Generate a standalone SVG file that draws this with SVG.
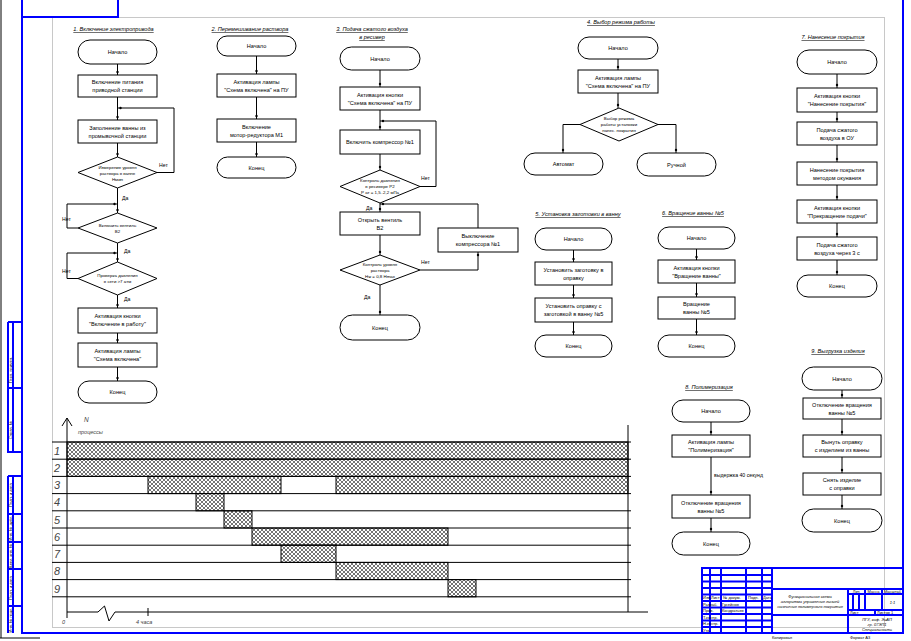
<svg xmlns="http://www.w3.org/2000/svg" width="911" height="641" viewBox="0 0 911 641">
<style>
.b{fill:#fff;stroke:#000;stroke-width:1}
.c{fill:none;stroke:#000;stroke-width:1}
.t{font-family:"Liberation Sans",Arial,sans-serif;font-size:5.6px;text-anchor:middle;fill:#000}
.d{font-family:"Liberation Sans",Arial,sans-serif;font-size:4.4px;text-anchor:middle;fill:#000}
.h{font-family:"Liberation Sans",Arial,sans-serif;font-size:5.6px;text-anchor:middle;fill:#000;font-style:italic;text-decoration:underline}
.l{font-family:"Liberation Sans",Arial,sans-serif;font-size:5.2px;fill:#000}
.g{font-family:"Liberation Sans",Arial,sans-serif;font-style:italic;fill:#444}
.s{font-family:"Liberation Sans",Arial,sans-serif;font-size:4px;fill:#000}
.fb{fill:none;stroke:#0000ff;stroke-width:2}
.fg{fill:none;stroke:#c8c8c8;stroke-width:1}
.hb{fill:url(#hatch);stroke:#000;stroke-width:1}
</style>
<defs>
<pattern id="hatch" width="4" height="4" patternUnits="userSpaceOnUse">
<rect width="4" height="4" fill="#fff"/>
<path d="M0,0 L4,4 M4,0 L0,4" stroke="#000" stroke-width="0.55"/>
</pattern>
<marker id="dot" markerUnits="userSpaceOnUse" viewBox="-6 -2 8 4" refX="0" refY="0" markerWidth="8" markerHeight="4" orient="auto" overflow="visible">
<circle cx="-3" cy="0" r="1.2" fill="#000"/>
</marker>
</defs>
<rect width="911" height="641" fill="#fff"/>

<!-- frame -->
<g id="frame">
<rect class="fg" x="52.5" y="17.5" width="832" height="610"/>
<path class="fb" d="M22,0 V633 H903 V0"/>
<path class="fb" d="M22,17 H118 V0"/>
<line x1="1" y1="0" x2="1" y2="638" stroke="#000" stroke-width="1"/>
<line x1="0" y1="638" x2="40" y2="638" stroke="#000" stroke-width="1"/>
<path class="fb" d="M8,322 H22 M8,322 V452 H22 M13,322 V452 M8,388 H22"/>
<path class="fb" d="M8,476 H22 M8,476 V633 M13,476 V633 M8,514 H22 M8,542 H22 M8,569 H22 M8,606 H22"/>
<text class="s" transform="translate(11.5,370) rotate(-90)" text-anchor="middle">Перв. примен.</text>
<text class="s" transform="translate(11.5,430) rotate(-90)" text-anchor="middle">Справ. №</text>
<text class="s" transform="translate(11.5,495) rotate(-90)" text-anchor="middle">Подп. и дата</text>
<text class="s" transform="translate(11.5,528) rotate(-90)" text-anchor="middle">Инв. № дубл.</text>
<text class="s" transform="translate(11.5,556) rotate(-90)" text-anchor="middle">Взам. инв. №</text>
<text class="s" transform="translate(11.5,588) rotate(-90)" text-anchor="middle">Подп. и дата</text>
<text class="s" transform="translate(11.5,620) rotate(-90)" text-anchor="middle">Инв. № подл.</text>
</g>

<!-- connectors -->
<g id="connectors" class="c">
<path d="M117.5,64 V75" marker-end="url(#dot)"/>
<path d="M117.5,97 V120" marker-end="url(#dot)"/>
<path d="M117.5,143 V157" marker-end="url(#dot)"/>
<path d="M117.5,188 V213" marker-end="url(#dot)"/>
<path d="M117.5,243 V262" marker-end="url(#dot)"/>
<path d="M117.5,295 V308" marker-end="url(#dot)"/>
<path d="M117.5,333 V343" marker-end="url(#dot)"/>
<path d="M117.5,367 V381" marker-end="url(#dot)"/>
<path d="M157,172.5 H174 V108 H117.5" marker-end="url(#dot)"/>
<path d="M78,228 H67 V204 H117.5" marker-end="url(#dot)"/>
<path d="M78,278.5 H67 V253 H117.5" marker-end="url(#dot)"/>
<path d="M256.5,56 V74" marker-end="url(#dot)"/>
<path d="M256.5,97 V119" marker-end="url(#dot)"/>
<path d="M256.5,142 V157" marker-end="url(#dot)"/>
<path d="M380,70 V87" marker-end="url(#dot)"/>
<path d="M380,110 V130" marker-end="url(#dot)"/>
<path d="M380,154 V170" marker-end="url(#dot)"/>
<path d="M380,203 V212" marker-end="url(#dot)"/>
<path d="M380,235 V255" marker-end="url(#dot)"/>
<path d="M380,285 V315" marker-end="url(#dot)"/>
<path d="M420,186.5 H436 V121 H380" marker-end="url(#dot)"/>
<path d="M420,270 H478 V252" marker-end="url(#dot)"/>
<path d="M478,228 V204 H380" marker-end="url(#dot)"/>
<path d="M618,59 V70" marker-end="url(#dot)"/>
<path d="M618,93 V108" marker-end="url(#dot)"/>
<path d="M580,124.5 H563 V153" marker-end="url(#dot)"/>
<path d="M658,124.5 H676 V153" marker-end="url(#dot)"/>
<path d="M573.5,250 V262" marker-end="url(#dot)"/>
<path d="M573.5,285 V298" marker-end="url(#dot)"/>
<path d="M573.5,322 V335" marker-end="url(#dot)"/>
<path d="M696.5,249 V260" marker-end="url(#dot)"/>
<path d="M696.5,283 V297" marker-end="url(#dot)"/>
<path d="M696.5,319 V335" marker-end="url(#dot)"/>
<path d="M837,74 V88" marker-end="url(#dot)"/>
<path d="M837,112 V122" marker-end="url(#dot)"/>
<path d="M837,145 V162" marker-end="url(#dot)"/>
<path d="M837,185 V200" marker-end="url(#dot)"/>
<path d="M837,223 V237" marker-end="url(#dot)"/>
<path d="M837,260 V275" marker-end="url(#dot)"/>
<path d="M711,422 V435" marker-end="url(#dot)"/>
<path d="M711,457 V495" marker-end="url(#dot)"/>
<path d="M711,518 V532" marker-end="url(#dot)"/>
<path d="M842,390 V398" marker-end="url(#dot)"/>
<path d="M842,419 V435" marker-end="url(#dot)"/>
<path d="M842,457 V473" marker-end="url(#dot)"/>
<path d="M842,495 V509" marker-end="url(#dot)"/>
</g>

<g id="connector-labels">
<text class="l" x="159" y="167">Нет</text>
<text class="l" x="122" y="200">Да</text>
<text class="l" x="62" y="221">Нет</text>
<text class="l" x="124" y="253">Да</text>
<text class="l" x="62" y="273">Нет</text>
<text class="l" x="124" y="301">Да</text>
<text class="l" x="421" y="180">Нет</text>
<text class="l" x="366" y="210">Да</text>
<text class="l" x="421" y="264">Нет</text>
<text class="l" x="364" y="299">Да</text>
<text class="l" x="714" y="477">выдержка 40 секунд</text>
</g>

<g id="titles">
<text class="h" x="113.5" y="31">1. Включение электропривода</text>
<text class="h" x="250" y="31">2. Перемешивание раствора</text>
<text class="h" x="372" y="31">3. Подача сжатого воздуха</text>
<text class="h" x="372" y="39">в ресивер</text>
<text class="h" x="621" y="24">4. Выбор режима работы</text>
<text class="h" x="578" y="216">5. Установка заготовки в ванну</text>
<text class="h" x="693" y="215">6. Вращение ванны №5</text>
<text class="h" x="833" y="39">7. Нанесение покрытия</text>
<text class="h" x="709" y="389">8. Полимеризация</text>
<text class="h" x="838" y="353">9. Выгрузка изделия</text>
</g>

<g id="f1-start"><rect class="b" x="78" y="40" width="79" height="24" rx="12"/><text class="t" x="117.5" y="54">Начало</text></g>
<g id="f1-b1"><rect class="b" x="78" y="75" width="79" height="22"/><text class="t" x="117.5" y="84">Включение питания</text><text class="t" x="117.5" y="92">приводной станции</text></g>
<g id="f1-b2"><rect class="b" x="78" y="120" width="79" height="23"/><text class="t" x="117.5" y="129.5">Заполнение ванны из</text><text class="t" x="117.5" y="137.5">промывочной станции</text></g>
<g id="f1-d1"><polygon class="b" points="117.5,157 157,172.5 117.5,188 78,172.5"/><text class="d" x="117.5" y="168.5">Измерение уровня</text><text class="d" x="117.5" y="174.5">раствора в ванне</text><text class="d" x="117.5" y="180.5">Нмин</text></g>
<g id="f1-d2"><polygon class="b" points="117.5,213 157,228 117.5,243 78,228"/><text class="d" x="117.5" y="226.5">Включить вентиль</text><text class="d" x="117.5" y="232.5">В2</text></g>
<g id="f1-d3"><polygon class="b" points="117.5,262 157,278.5 117.5,295 78,278.5"/><text class="d" x="117.5" y="277">Проверка давления</text><text class="d" x="117.5" y="283">в сети &gt;7 атм</text></g>
<g id="f1-b3"><rect class="b" x="78" y="308" width="79" height="25"/><text class="t" x="117.5" y="318">Активация кнопки</text><text class="t" x="117.5" y="326">"Включение в работу"</text></g>
<g id="f1-b4"><rect class="b" x="78" y="343" width="79" height="24"/><text class="t" x="117.5" y="352.5">Активация лампы</text><text class="t" x="117.5" y="360.5">"Схема включена"</text></g>
<g id="f1-end"><rect class="b" x="78" y="381" width="79" height="22" rx="11"/><text class="t" x="117.5" y="394">Конец</text></g>

<g id="f2-start"><rect class="b" x="217" y="36" width="79" height="20" rx="10"/><text class="t" x="256.5" y="48">Начало</text></g>
<g id="f2-b1"><rect class="b" x="217" y="74" width="79" height="23"/><text class="t" x="256.5" y="83.5">Активация лампы</text><text class="t" x="256.5" y="91.5">"Схема включена" на ПУ</text></g>
<g id="f2-b2"><rect class="b" x="217" y="119" width="79" height="23"/><text class="t" x="256.5" y="128.5">Включение</text><text class="t" x="256.5" y="136.5">мотор-редуктора М1</text></g>
<g id="f2-end"><rect class="b" x="217" y="157" width="79" height="21" rx="10.5"/><text class="t" x="256.5" y="169.5">Конец</text></g>

<g id="f3-start"><rect class="b" x="340" y="47" width="80" height="23" rx="11.5"/><text class="t" x="380" y="60.5">Начало</text></g>
<g id="f3-b1"><rect class="b" x="340" y="87" width="80" height="23"/><text class="t" x="380" y="96.5">Активация кнопки</text><text class="t" x="380" y="104.5">"Схема включена" на ПУ</text></g>
<g id="f3-b2"><rect class="b" x="340" y="130" width="80" height="24"/><text class="t" x="380" y="144">Включить компрессор №1</text></g>
<g id="f3-d1"><polygon class="b" points="380,170 420,186.5 380,203 340,186.5"/><text class="d" x="380" y="182">Контроль давления</text><text class="d" x="380" y="188">в ресивере Р2</text><text class="d" x="380" y="194">Р ат = 1,5..2,2 мПа</text></g>
<g id="f3-b3"><rect class="b" x="340" y="212" width="80" height="23"/><text class="t" x="380" y="221.5">Открыть вентиль</text><text class="t" x="380" y="229.5">В2</text></g>
<g id="f3-b4"><rect class="b" x="438" y="228" width="80" height="24"/><text class="t" x="478" y="237.5">Выключение</text><text class="t" x="478" y="245.5">компрессора №1</text></g>
<g id="f3-d2"><polygon class="b" points="380,255 420,270 380,285 340,270"/><text class="d" x="380" y="266">Контроль уровня</text><text class="d" x="380" y="272">раствора</text><text class="d" x="380" y="278">Нж = 0,8 Нmax</text></g>
<g id="f3-end"><rect class="b" x="340" y="315" width="80" height="25" rx="12.5"/><text class="t" x="380" y="329.5">Конец</text></g>

<g id="f4-start"><rect class="b" x="578" y="37" width="80" height="22" rx="11"/><text class="t" x="618" y="50">Начало</text></g>
<g id="f4-b1"><rect class="b" x="578" y="70" width="80" height="23"/><text class="t" x="618" y="79.5">Активация лампы</text><text class="t" x="618" y="87.5">"Схема включена" на ПУ</text></g>
<g id="f4-d1"><polygon class="b" points="619,108 658,124.5 619,141 580,124.5"/><text class="d" x="619" y="120">Выбор режима</text><text class="d" x="619" y="126">работы установки</text><text class="d" x="619" y="132">нанес. покрытия</text></g>
<g id="f4-auto"><rect class="b" x="524" y="153" width="79" height="22" rx="11"/><text class="t" x="563.5" y="166">Автомат</text></g>
<g id="f4-man"><rect class="b" x="637" y="153" width="79" height="23" rx="11.5"/><text class="t" x="676.5" y="166.5">Ручной</text></g>

<g id="f5-start"><rect class="b" x="535" y="228" width="77" height="22" rx="11"/><text class="t" x="573.5" y="241">Начало</text></g>
<g id="f5-b1"><rect class="b" x="535" y="262" width="77" height="23"/><text class="t" x="573.5" y="271.5">Установить заготовку в</text><text class="t" x="573.5" y="279.5">оправку</text></g>
<g id="f5-b2"><rect class="b" x="535" y="298" width="77" height="24"/><text class="t" x="573.5" y="307.5">Установить оправку с</text><text class="t" x="573.5" y="315.5">заготовкой в ванну №5</text></g>
<g id="f5-end"><rect class="b" x="535" y="335" width="77" height="22" rx="11"/><text class="t" x="573.5" y="348">Конец</text></g>

<g id="f6-start"><rect class="b" x="658" y="227" width="77" height="22" rx="11"/><text class="t" x="696.5" y="240">Начало</text></g>
<g id="f6-b1"><rect class="b" x="658" y="260" width="77" height="23"/><text class="t" x="696.5" y="269.5">Активация кнопки</text><text class="t" x="696.5" y="277.5">"Вращение ванны"</text></g>
<g id="f6-b2"><rect class="b" x="658" y="297" width="77" height="22"/><text class="t" x="696.5" y="306">Вращение</text><text class="t" x="696.5" y="314">ванны №5</text></g>
<g id="f6-end"><rect class="b" x="658" y="335" width="77" height="22" rx="11"/><text class="t" x="696.5" y="348">Конец</text></g>

<g id="f7-start"><rect class="b" x="797" y="50" width="80" height="24" rx="12"/><text class="t" x="837" y="64">Начало</text></g>
<g id="f7-b1"><rect class="b" x="797" y="88" width="80" height="24"/><text class="t" x="837" y="98">Активация кнопки</text><text class="t" x="837" y="106">"Нанесение покрытия"</text></g>
<g id="f7-b2"><rect class="b" x="797" y="122" width="80" height="23"/><text class="t" x="837" y="131.5">Подача сжатого</text><text class="t" x="837" y="139.5">воздуха в ОУ</text></g>
<g id="f7-b3"><rect class="b" x="797" y="162" width="80" height="23"/><text class="t" x="837" y="171.5">Нанесение покрытия</text><text class="t" x="837" y="179.5">методом окунания</text></g>
<g id="f7-b4"><rect class="b" x="797" y="200" width="80" height="23"/><text class="t" x="837" y="209.5">Активация кнопки</text><text class="t" x="837" y="217.5">"Прекращение подачи"</text></g>
<g id="f7-b5"><rect class="b" x="797" y="237" width="80" height="23"/><text class="t" x="837" y="246.5">Подача сжатого</text><text class="t" x="837" y="254.5">воздуха через 3 с</text></g>
<g id="f7-end"><rect class="b" x="797" y="275" width="80" height="22" rx="11"/><text class="t" x="837" y="288">Конец</text></g>

<g id="f8-start"><rect class="b" x="672" y="400" width="78" height="22" rx="11"/><text class="t" x="711" y="413">Начало</text></g>
<g id="f8-b1"><rect class="b" x="672" y="435" width="78" height="22"/><text class="t" x="711" y="444">Активация лампы</text><text class="t" x="711" y="452">"Полимеризация"</text></g>
<g id="f8-b2"><rect class="b" x="672" y="495" width="78" height="23"/><text class="t" x="711" y="504.5">Отключение вращения</text><text class="t" x="711" y="512.5">ванны №5</text></g>
<g id="f8-end"><rect class="b" x="672" y="532" width="78" height="23" rx="11.5"/><text class="t" x="711" y="545.5">Конец</text></g>

<g id="f9-start"><rect class="b" x="802" y="367" width="80" height="23" rx="11.5"/><text class="t" x="842" y="380.5">Начало</text></g>
<g id="f9-b1"><rect class="b" x="803" y="398" width="78" height="21"/><text class="t" x="842" y="407">Отключение вращения</text><text class="t" x="842" y="415">ванны №5</text></g>
<g id="f9-b2"><rect class="b" x="803" y="435" width="78" height="22"/><text class="t" x="842" y="444">Вынуть оправку</text><text class="t" x="842" y="452">с изделием из ванны</text></g>
<g id="f9-b3"><rect class="b" x="803" y="473" width="78" height="22"/><text class="t" x="842" y="482">Снять изделие</text><text class="t" x="842" y="490">с оправки</text></g>
<g id="f9-end"><rect class="b" x="802" y="509" width="80" height="23" rx="11.5"/><text class="t" x="842" y="522.5">Конец</text></g>

<g id="gantt">
<rect class="hb" x="67" y="442" width="561" height="17.2"/>
<rect class="hb" x="67" y="459.2" width="561" height="17.2"/>
<rect class="hb" x="148" y="476.4" width="133" height="17.2"/>
<rect class="hb" x="336" y="476.4" width="292" height="17.2"/>
<rect class="hb" x="196" y="493.6" width="28" height="17.2"/>
<rect class="hb" x="224" y="510.8" width="28" height="17.2"/>
<rect class="hb" x="252" y="528" width="196" height="17.2"/>
<rect class="hb" x="281" y="545.2" width="55" height="17.2"/>
<rect class="hb" x="336" y="562.4" width="112" height="17.2"/>
<rect class="hb" x="448" y="579.6" width="28" height="17.2"/>
<path class="c" d="M52,442 H631 M52,459.2 H631 M52,476.4 H631 M52,493.6 H631 M52,510.8 H631 M52,528 H631 M52,545.2 H631 M52,562.4 H631 M52,579.6 H631 M52,596.8 H631"/>
<path class="c" d="M67,418 V618 M62,426 L67,418 L72,426 M628,425 V612"/>
<path class="c" d="M67,612 H98 L104.5,606 L109,621 L115,612 H648 M148,608 V616"/>
<text class="g" x="84" y="422" font-size="6.5">N</text>
<text class="g" x="78" y="434" font-size="5.5">процессы</text>
<text class="g" x="54" y="454.5" font-size="11">1</text>
<text class="g" x="54" y="471.5" font-size="11">2</text>
<text class="g" x="54" y="489" font-size="11">3</text>
<text class="g" x="54" y="506" font-size="11">4</text>
<text class="g" x="54" y="523.5" font-size="11">5</text>
<text class="g" x="54" y="540.5" font-size="11">6</text>
<text class="g" x="54" y="558" font-size="11">7</text>
<text class="g" x="54" y="575" font-size="11">8</text>
<text class="g" x="54" y="592.5" font-size="11">9</text>
<text class="g" x="62" y="624" font-size="5.5">0</text>
<text class="g" x="136" y="624" font-size="5.5">4 часа</text>
</g>

<g id="title-block">
<rect class="fb" x="702" y="568" width="201" height="65"/>
<path class="fb" stroke-width="1.5" d="M710,568 V633 M721,568 V633 M746,568 V633 M762,568 V633 M772,568 V633 M772,589 H903 M848,589 V633 M772,615 H903 M848,610 H903 M865,589 V610 M882,589 V610 M848,594 H903 M853,594 V610 M859,594 V610 M875,610 V615"/>
<path class="fb" stroke-width="1" d="M702,575 H772 M702,581.5 H772 M702,588 H772 M702,594.5 H772 M702,601 H772 M702,607.5 H772 M702,614 H772 M702,620.5 H772 M702,627 H772"/>
<text class="s" x="703" y="599">Изм.</text><text class="s" x="711" y="599">Лист</text><text class="s" x="723" y="599">№ докум.</text><text class="s" x="748" y="599">Подп.</text><text class="s" x="763" y="599">Дата</text>
<text class="s" x="703" y="605.5">Разраб.</text><text class="s" x="722" y="605.5">Гусейнов</text>
<text class="s" x="703" y="612">Пров.</text><text class="s" x="722" y="612">Кондратьев</text>
<text class="s" x="703" y="618.5">Т.контр.</text>
<text class="s" x="703" y="625">Н.контр.</text>
<text class="s" x="703" y="631.5">Утв.</text>
<text class="s" x="810" y="598" text-anchor="middle" font-style="italic">Функциональная схема</text>
<text class="s" x="810" y="603" text-anchor="middle" font-style="italic">алгоритма управления линией</text>
<text class="s" x="810" y="608" text-anchor="middle" font-style="italic">нанесения полимерного покрытия</text>
<text class="s" x="856.5" y="593" text-anchor="middle">Лит.</text><text class="s" x="873.5" y="593" text-anchor="middle">Масса</text><text class="s" x="892.5" y="593" text-anchor="middle">Масштаб</text>
<text class="s" x="892.5" y="604" text-anchor="middle" font-size="6" font-style="italic">1:1</text>
<text class="s" x="850" y="614">Лист</text><text class="s" x="877" y="614">Листов  1</text>
<text class="s" x="877" y="621" text-anchor="middle" font-style="italic">ПГУ, каф. ЭиАП</text>
<text class="s" x="877" y="626" text-anchor="middle" font-style="italic">гр. 07ЭП1</text>
<text class="s" x="877" y="631" text-anchor="middle" font-style="italic">Специальность</text>
<text class="s" x="772" y="639">Копировал</text>
<text class="s" x="850" y="639">Формат   A3</text>
</g>
</svg>
